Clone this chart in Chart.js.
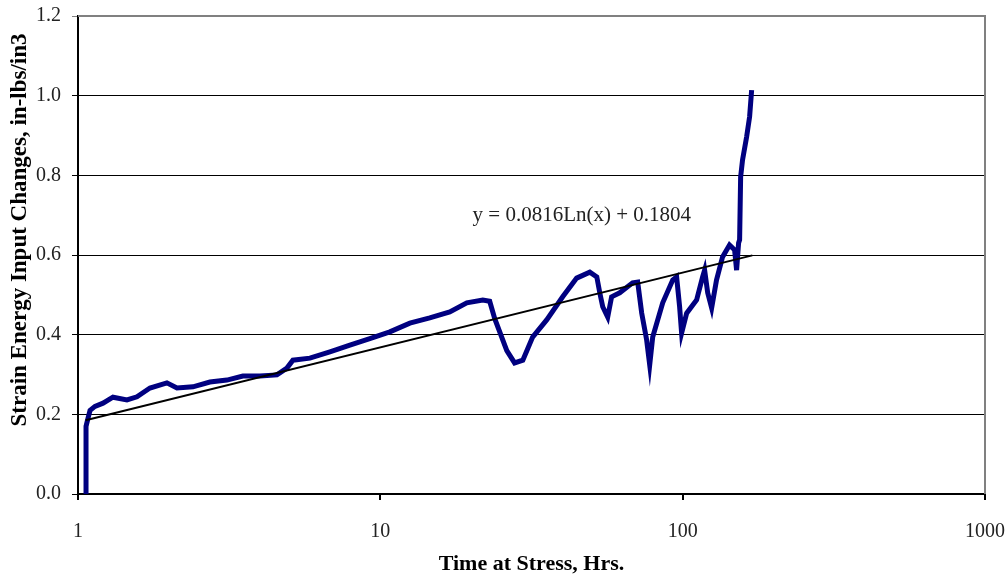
<!DOCTYPE html>
<html>
<head>
<meta charset="utf-8">
<script src="https://cdn.jsdelivr.net/npm/chart.js@4"></script>
<style>
  html, body { margin: 0; padding: 0; background: #fff; }
  #wrap { width: 1008px; height: 575px; }
</style>
</head>
<body>
<div id="wrap"><canvas id="chart" width="1008" height="575"></canvas></div>
<script>
// hours at stress and strain energy input change
const hours = [1.063, 1.063, 1.079, 1.096, 1.138, 1.21, 1.305, 1.452, 1.567, 1.73, 1.968, 2.125, 2.4, 2.731,
  3.109, 3.51, 3.997, 4.549, 4.909, 5.139, 5.848, 6.81, 7.93, 9.23, 10.75, 12.52, 14.57, 16.97, 19.32,
  21.82, 23.0, 23.9, 26.2, 27.8, 29.6, 31.9, 35.5, 40.1, 44.6, 49.3, 52.0, 53.2, 54.4, 56.5, 58.2, 61.9,
  68.3, 71.0, 73.2, 76.0, 77.8, 79.6, 85.9, 92.7, 95.5, 97.7, 99.2, 103.1, 111.2, 116.4, 118.2, 121.0,
  124.7, 129.4, 135.5, 142.9, 148.5, 150.8, 153.1, 154.3, 155.5, 157.8, 162.7, 166.5, 169.1]
const energy = [0.0, 0.17, 0.19, 0.21, 0.22, 0.228, 0.243, 0.236, 0.244, 0.266, 0.279, 0.266, 0.269, 0.281,
  0.286, 0.296, 0.296, 0.299, 0.316, 0.336, 0.341, 0.357, 0.374, 0.39, 0.407, 0.429, 0.442, 0.457, 0.48,
  0.487, 0.484, 0.44, 0.36, 0.329, 0.336, 0.394, 0.437, 0.495, 0.542, 0.557, 0.545, 0.505, 0.47, 0.444, 0.495, 0.505,
  0.53, 0.532, 0.454, 0.387, 0.324, 0.394, 0.48, 0.537, 0.545, 0.47, 0.404, 0.454, 0.487, 0.545, 0.562, 0.505,
  0.467, 0.537, 0.595, 0.625, 0.613, 0.562, 0.63, 0.638, 0.796, 0.839, 0.896, 0.947, 1.014]

// log trend line end points (straight on a log axis)
const trendHours = [1.06, 170]
const trendEnergy = [0.185, 0.599]
const trendLabel = "y = 0.0816Ln(x) + 0.1804"
const yTitle = "Strain Energy Input Changes, in-lbs/in3"

const xTicks = [1, 10, 100, 1000]
const yTicks = [0, 0.2, 0.4, 0.6, 0.8, 1.0, 1.2]

const plotRight = 985

function toPoints(xs, ys) {
  return xs.map(function(x, i) {
    return { x: x, y: ys[i] }
  })
}

const serif = "'Liberation Serif', 'Times New Roman', serif"

// gray frame on top and right, the equation text and the y title
const extras = {
  id: "extras",
  afterLayout: function(chart) {
    // pull the right edge in so the 1000 label hangs past the frame like the original
    const x = chart.scales.x
    chart.chartArea.right = plotRight
    chart.chartArea.width = plotRight - chart.chartArea.left
    x.right = plotRight
    x.width = plotRight - x.left
    x.configure()
  },
  afterDatasetsDraw: function(chart) {
    const ctx = chart.ctx
    const a = chart.chartArea
    ctx.save()
    ctx.strokeStyle = "#808080"
    ctx.lineWidth = 2
    ctx.beginPath()
    ctx.moveTo(a.left, a.top)
    ctx.lineTo(a.right, a.top)
    ctx.lineTo(a.right, a.bottom)
    ctx.stroke()
    ctx.fillStyle = "#222"
    ctx.font = "21px " + serif
    ctx.textAlign = "center"
    ctx.textBaseline = "middle"
    ctx.fillText(trendLabel, chart.scales.x.getPixelForValue(46.4), chart.scales.y.getPixelForValue(0.698))

    // y title sits a bit above the plot middle in the original
    ctx.fillStyle = "#000"
    ctx.font = "bold 23px " + serif
    ctx.translate(20, 230)
    ctx.rotate(-Math.PI / 2)
    ctx.fillText(yTitle, 0, 0)
    ctx.restore()
  }
}

new Chart(document.getElementById("chart"), {
  type: "line",
  data: {
    datasets: [
      {
        label: "Trend",
        data: toPoints(trendHours, trendEnergy),
        borderColor: "#000",
        borderWidth: 2,
        pointRadius: 0,
        order: 0
      },
      {
        label: "Strain energy",
        data: toPoints(hours, energy),
        borderColor: "#000080",
        borderWidth: 5,
        pointRadius: 0,
        tension: 0,
        order: 1
      }
    ]
  },
  options: {
    responsive: false,
    animation: false,
    layout: { padding: { left: 0, right: 23, top: 16, bottom: 0 } },
    plugins: { legend: { display: false }, tooltip: { enabled: false } },
    scales: {
      x: {
        type: "logarithmic",
        min: 1,
        max: 1000,
        afterBuildTicks: function(scale) {
          scale.ticks = xTicks.map(function(v) { return { value: v } })
        },
        afterFit: function(scale) {
          scale.height = 81
          scale.paddingLeft = 0
          scale.paddingRight = 0
        },
        ticks: {
          color: "#222",
          font: { family: serif, size: 20 },
          padding: 20,
          maxRotation: 0,
          callback: function(v) { return String(v) }
        },
        grid: { drawOnChartArea: false, drawTicks: true, tickLength: 6, color: "#000", lineWidth: 2 },
        border: { color: "#000", width: 2 },
        title: {
          display: true,
          text: "Time at Stress, Hrs.",
          color: "#000",
          font: { family: serif, size: 22, weight: "bold", lineHeight: 1 },
          padding: { top: 4, bottom: 0 }
        }
      },
      y: {
        min: 0,
        max: 1.2,
        afterBuildTicks: function(scale) {
          scale.ticks = yTicks.map(function(v) { return { value: v } })
        },
        afterFit: function(scale) {
          scale.width = 78
          scale.paddingTop = 0
          scale.paddingBottom = 0
        },
        ticks: {
          color: "#222",
          font: { family: serif, size: 20 },
          padding: 11,
          callback: function(v) { return v.toFixed(1) }
        },
        grid: {
          color: function(c) { return c.tick && c.tick.value === 1.2 ? "#808080" : "#000" },
          lineWidth: 1,
          tickLength: 6
        },
        border: { color: "#000", width: 2 }
      }
    }
  },
  plugins: [extras]
})
</script>
</body>
</html>
